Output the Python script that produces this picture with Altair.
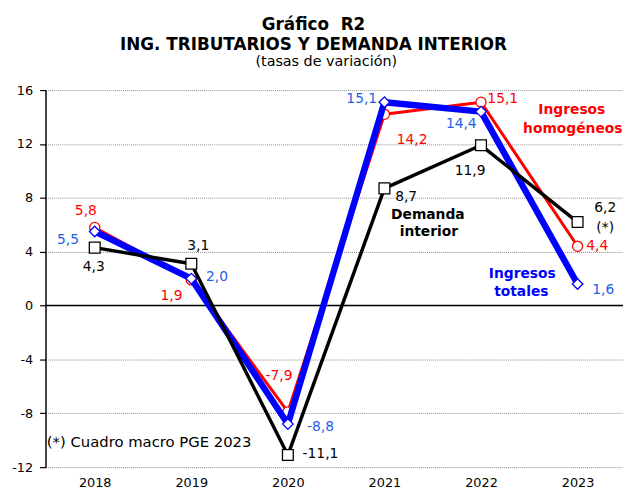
import altair as alt
import pandas as pd

# ---------------- data ----------------
years = ["2018", "2019", "2020", "2021", "2022", "2023"]
demanda = [4.3, 3.1, -11.1, 8.7, 11.9, 6.2]
homogeneos = [5.8, 1.9, -7.9, 14.2, 15.1, 4.4]
totales = [5.5, 2.0, -8.8, 15.1, 14.4, 1.6]
series_names = ["Ingresos homogéneos", "Ingresos totales", "Demanda interior"]
y_ticks = [-12, -8, -4, 0, 4, 8, 12, 16]
note_text = "(*) Cuadro macro PGE 2023"
title_lines = ["Gráfico\u00a0\u00a0R2", "ING. TRIBUTARIOS Y DEMANDA INTERIOR"]
subtitle_text = "(tasas de variación)"

rows = []
for name, vals in zip(series_names, [homogeneos, totales, demanda]):
    for yr, v in zip(years, vals):
        rows.append({"year": yr, "serie": name, "value": v,
                     "label": f"{v:.1f}".replace(".", ",")})
df = pd.DataFrame(rows)

# ---------------- styles ----------------
FONT = "DejaVu Sans"
RED = "#FF0000"
BLUE = "#0000FF"
BLUE_LBL = "#1F5FE6"
BLACK = "#000000"

X = alt.X("year:O",
          scale=alt.Scale(padding=0.49, align=0.52),
          axis=alt.Axis(title=None, labelAngle=0, domain=False, ticks=False, tickSize=0,
                        labelFont=FONT, labelFontSize=13, labelColor="black",
                        labelPadding=10, grid=False))
Y = alt.Y("value:Q",
          scale=alt.Scale(domain=[-12, 16], nice=False, zero=False),
          axis=alt.Axis(title=None, values=y_ticks, grid=True, gridDash=[1, 1],
                        gridColor="#8c8c8c", gridWidth=1,
                        domainColor="black", domainWidth=1.5,
                        tickColor="black", tickSize=6, tickWidth=1.2,
                        labelExpr="'' + datum.value",
                        labelFont=FONT, labelFontSize=13, labelColor="black",
                        labelPadding=7))

zero = alt.Chart(pd.DataFrame({"value": [0.0]})).mark_rule(
    color="black", strokeWidth=1.5).encode(y=Y)

def series_layers(name, color, width, shape, size):
    base = alt.Chart(df).transform_filter(alt.datum.serie == name)
    line = base.mark_line(color=color, strokeWidth=width, strokeJoin="round").encode(x=X, y=Y)
    pts = base.mark_point(shape=shape, filled=False, fill="white", fillOpacity=1,
                          stroke=color, strokeWidth=1.3, size=size, opacity=1).encode(x=X, y=Y)
    return [line, pts]

def text_layer(serie, year, dx, dy, color, text=None, bold=False, size=14, align="center"):
    base = alt.Chart(df).transform_filter(
        (alt.datum.serie == serie) & (alt.datum.year == year))
    kw = dict(dx=dx, dy=dy, color=color, font=FONT, fontSize=size,
              fontWeight="bold" if bold else "normal", align=align, baseline="middle")
    if text is None:
        return base.mark_text(**kw).encode(x=X, y=Y, text="label:N")
    return base.mark_text(text=text, **kw).encode(x=X, y=Y)

H, T, D = series_names
label_offsets = [
    (H, "2018", -9, -17, RED), (H, "2019", -20, 16, RED), (H, "2020", -9, -36, RED),
    (H, "2021", 28, 26, RED), (H, "2022", 22, -3, RED), (H, "2023", 20, 0, RED),
    (T, "2018", -27, 9, BLUE_LBL), (T, "2019", 26, -2, BLUE_LBL), (T, "2020", 33, 3, BLUE_LBL),
    (T, "2021", -23, -3, BLUE_LBL), (T, "2022", -20, 13, BLUE_LBL), (T, "2023", 26, 6, BLUE_LBL),
    (D, "2018", -1, 20, BLACK), (D, "2019", 7, -18, BLACK), (D, "2020", 33, -1, BLACK),
    (D, "2021", 22, 9, BLACK), (D, "2022", -11, 26, BLACK), (D, "2023", 28, -14, BLACK),
]

layers = [zero]
layers += series_layers(H, RED, 3, "circle", 105)
layers += series_layers(T, BLUE, 6.5, "diamond", 115)
layers += series_layers(D, BLACK, 3.5, "square", 120)
layers += [text_layer(s, yr, dx, dy, c) for s, yr, dx, dy, c in label_offsets]
layers += [
    text_layer(D, "2023", 28, 6, BLACK, text="(*)"),
    text_layer(H, "2022", 92, 8, RED, text="Ingresos", bold=True),
    text_layer(H, "2022", 93, 27, RED, text="homogéneos", bold=True),
    text_layer(D, "2021", 44, 27, BLACK, text="Demanda", bold=True),
    text_layer(D, "2021", 45, 44, BLACK, text="interior", bold=True),
    text_layer(T, "2023", -56, -10, BLUE, text="Ingresos", bold=True),
    text_layer(T, "2023", -57, 8, BLUE, text="totales", bold=True),
    text_layer(D, "2018", -48.5, 197, BLACK, text=note_text, align="left", size=15),
]

chart = alt.layer(*layers).properties(
    width=585, height=382,
    padding={"left": 38, "top": 80, "right": 0, "bottom": 20},
    autosize=alt.AutoSizeParams(type="none"),
    background="white",
    title=alt.TitleParams(
        text=title_lines,
        subtitle="\u2800\u2800\u00a0" + subtitle_text,
        font=FONT, fontSize=17, fontWeight="bold", color="black",
        subtitleFont=FONT, subtitleFontSize=14.5, subtitleColor="black",
        anchor="middle", frame="group", dx=-21, offset=15,
        lineHeight=20.5, subtitlePadding=1, subtitleLineHeight=16),
).configure_view(stroke=None)

chart.save("out.html", embed_options={"renderer": "svg", "actions": False})
